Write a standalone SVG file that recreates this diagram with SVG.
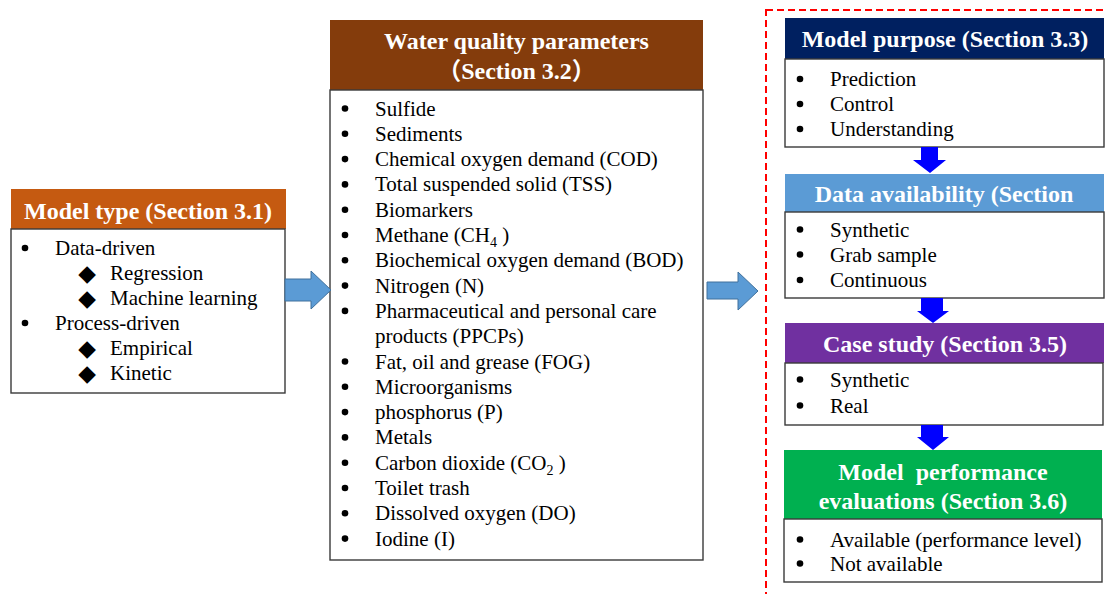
<svg xmlns="http://www.w3.org/2000/svg" width="1106" height="594" viewBox="0 0 1106 594">
<style>
.hd{font-family:'Liberation Serif','Noto Sans CJK SC',serif;font-size:24px;font-weight:bold;fill:#ffffff;text-anchor:middle}
.tx{font-family:'Liberation Serif',serif;font-size:21px;fill:#000000}
.bl{fill:#000000}
.dm{font-family:'DejaVu Sans',sans-serif;font-size:23px;fill:#000000;text-anchor:middle}
.body{fill:#ffffff;stroke:#3a3a3a;stroke-width:1.4}
.barrow{fill:#5B9BD5;stroke:#41719C;stroke-width:1}
.darrow{fill:#0000FF}
</style>
<defs>
<circle id="dot" r="3.3" class="bl"/>
</defs>
<rect width="1106" height="594" fill="#ffffff"/>
<rect x="766" y="10" width="360" height="600" fill="none" stroke="#FF0000" stroke-width="2" stroke-dasharray="7 4"/>

<g id="model-type">
<rect x="11" y="189" width="275" height="40" fill="#C55A11"/>
<rect class="body" x="11" y="229" width="274" height="164"/>
<text class="hd" x="148" y="219">Model type (Section 3.1)</text>
<use href="#dot" x="25" y="248"/><text class="tx" x="55" y="255">Data-driven</text>
<text class="dm" x="87" y="281">◆</text><text class="tx" x="110" y="280">Regression</text>
<text class="dm" x="87" y="306">◆</text><text class="tx" x="110" y="305">Machine learning</text>
<use href="#dot" x="25" y="323"/><text class="tx" x="55" y="330">Process-driven</text>
<text class="dm" x="87" y="356">◆</text><text class="tx" x="110" y="355">Empirical</text>
<text class="dm" x="87" y="381">◆</text><text class="tx" x="110" y="380">Kinetic</text>
</g>

<g id="water-quality">
<rect x="330" y="20" width="373" height="70" fill="#843C0C"/>
<rect class="body" x="330" y="90" width="373" height="470"/>
<text class="hd" x="516.5" y="49">Water quality parameters</text>
<text class="hd" x="516.5" y="79">（Section 3.2）</text>
<use href="#dot" x="345" y="108.5"/><text class="tx" x="375" y="115.5">Sulfide</text>
<use href="#dot" x="345" y="133.8"/><text class="tx" x="375" y="140.8">Sediments</text>
<use href="#dot" x="345" y="159.1"/><text class="tx" x="375" y="166.1">Chemical oxygen demand (COD)</text>
<use href="#dot" x="345" y="184.4"/><text class="tx" x="375" y="191.4">Total suspended solid (TSS)</text>
<use href="#dot" x="345" y="209.7"/><text class="tx" x="375" y="216.7">Biomarkers</text>
<use href="#dot" x="345" y="235"/><text class="tx" x="375" y="242">Methane (CH<tspan font-size="14" dy="5">4</tspan><tspan dy="-5"> )</tspan></text>
<use href="#dot" x="345" y="260.3"/><text class="tx" x="375" y="267.3">Biochemical oxygen demand (BOD)</text>
<use href="#dot" x="345" y="285.6"/><text class="tx" x="375" y="292.6">Nitrogen (N)</text>
<use href="#dot" x="345" y="310.9"/><text class="tx" x="375" y="317.9">Pharmaceutical and personal care</text>
<text class="tx" x="375" y="343.2">products (PPCPs)</text>
<use href="#dot" x="345" y="361.5"/><text class="tx" x="375" y="368.5">Fat, oil and grease (FOG)</text>
<use href="#dot" x="345" y="386.8"/><text class="tx" x="375" y="393.8">Microorganisms</text>
<use href="#dot" x="345" y="412.1"/><text class="tx" x="375" y="419.1">phosphorus (P)</text>
<use href="#dot" x="345" y="437.4"/><text class="tx" x="375" y="444.4">Metals</text>
<use href="#dot" x="345" y="462.7"/><text class="tx" x="375" y="469.7">Carbon dioxide (CO<tspan font-size="14" dy="5">2</tspan><tspan dy="-5"> )</tspan></text>
<use href="#dot" x="345" y="488"/><text class="tx" x="375" y="495">Toilet trash</text>
<use href="#dot" x="345" y="513.3"/><text class="tx" x="375" y="520.3">Dissolved oxygen (DO)</text>
<use href="#dot" x="345" y="538.6"/><text class="tx" x="375" y="545.6">Iodine (I)</text>
</g>

<g id="model-purpose">
<rect x="785" y="18" width="319" height="41" fill="#002060"/>
<rect class="body" x="785" y="59" width="319" height="88"/>
<text class="hd" x="945" y="47">Model purpose (Section 3.3)</text>
<use href="#dot" x="800" y="79"/><text class="tx" x="830" y="86">Prediction</text>
<use href="#dot" x="800" y="104"/><text class="tx" x="830" y="111">Control</text>
<use href="#dot" x="800" y="129"/><text class="tx" x="830" y="136">Understanding</text>
</g>

<g id="data-availability">
<rect x="785" y="174" width="319" height="38" fill="#5B9BD5"/>
<rect class="body" x="785" y="212" width="319" height="86"/>
<text class="hd" x="944" y="202">Data availability (Section</text>
<use href="#dot" x="800" y="229.5"/><text class="tx" x="830" y="236.5">Synthetic</text>
<use href="#dot" x="800" y="254.5"/><text class="tx" x="830" y="261.5">Grab sample</text>
<use href="#dot" x="800" y="280"/><text class="tx" x="830" y="287">Continuous</text>
</g>

<g id="case-study">
<rect x="785" y="323" width="319" height="40" fill="#7030A0"/>
<rect class="body" x="785" y="363" width="318" height="62"/>
<text class="hd" x="945" y="352">Case study (Section 3.5)</text>
<use href="#dot" x="800" y="379.5"/><text class="tx" x="830" y="386.5">Synthetic</text>
<use href="#dot" x="800" y="405.5"/><text class="tx" x="830" y="412.5">Real</text>
</g>

<g id="model-performance">
<rect x="784" y="450" width="318" height="69" fill="#00B050"/>
<rect class="body" x="784" y="519" width="318" height="63"/>
<text class="hd" x="943" y="480" xml:space="preserve">Model  performance</text>
<text class="hd" x="943" y="509">evaluations (Section 3.6)</text>
<use href="#dot" x="800" y="539.5"/><text class="tx" x="830" y="546.5">Available (performance level)</text>
<use href="#dot" x="800" y="563.5"/><text class="tx" x="830" y="570.5">Not available</text>
</g>

<g id="connectors">
<polygon class="barrow" points="285,279 311,279 311,271 331,290 311,309 311,301 285,301"/>
<polygon class="barrow" points="707,282 738,282 738,272 758,291 738,310 738,299 707,299"/>
<polygon class="darrow" points="921,147 938,147 938,160 946,160 930,173 913,160 921,160"/>
<polygon class="darrow" points="921,298 943,298 943,311 949,311 933,323 917,311 921,311"/>
<polygon class="darrow" points="921,425 943,425 943,437 949,437 933,450 917,437 921,437"/>
</g>
</svg>
